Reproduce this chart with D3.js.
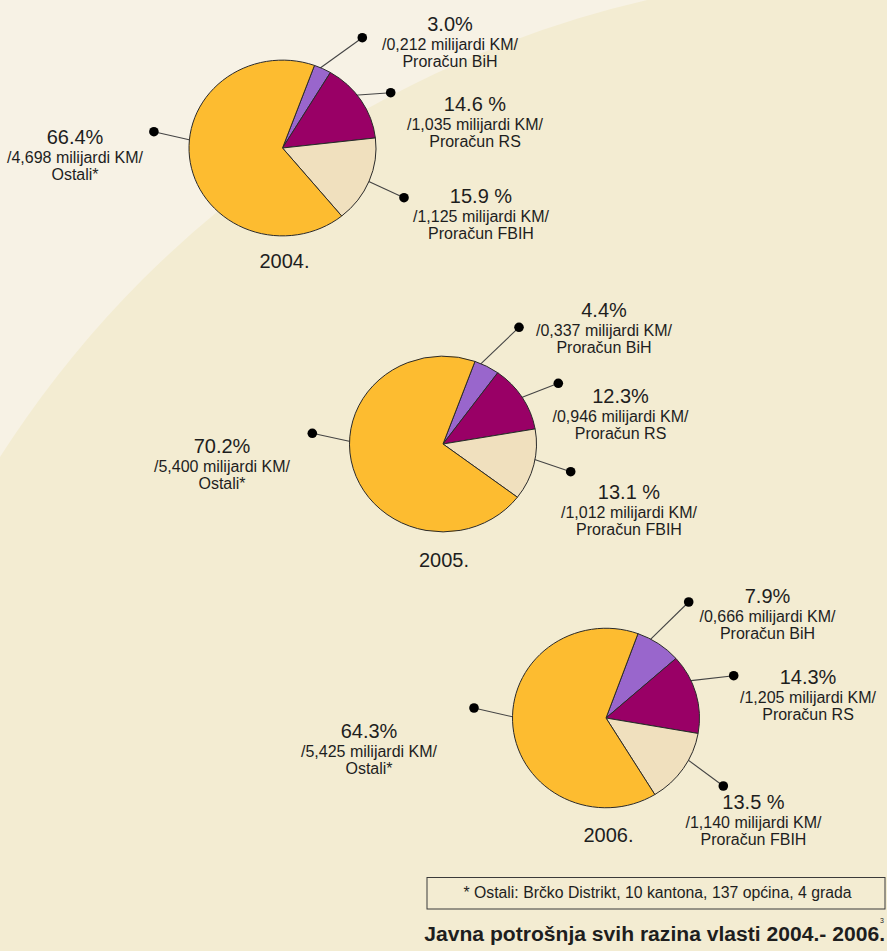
<!DOCTYPE html>
<html>
<head>
<meta charset="utf-8">
<script src="https://cdn.jsdelivr.net/npm/d3@7/dist/d3.min.js"></script>
<style>
  html, body { margin: 0; padding: 0; background: #f7f2e5; }
  svg { display: block; }
  text { font-family: "Liberation Sans", Arial, Helvetica, sans-serif; fill: #1e1e1e; }
</style>
</head>
<body>
<svg id="chart" width="887" height="951"></svg>
<script>
// ---------------- DATA ----------------
const years = ["2004.", "2005.", "2006."];
const categories = ["Proračun BiH", "Proračun RS", "Proračun FBIH", "Ostali*"];
const colors = ["#9966cc", "#990066", "#f0e0be", "#fdbc30"];

const share2004 = [3.0, 14.6, 15.9, 66.4];
const share2005 = [4.4, 12.3, 13.1, 70.2];
const share2006 = [7.9, 14.3, 13.5, 64.3];

const shareText2004 = ["3.0%", "14.6 %", "15.9 %", "66.4%"];
const shareText2005 = ["4.4%", "12.3%", "13.1 %", "70.2%"];
const shareText2006 = ["7.9%", "14.3%", "13.5 %", "64.3%"];

const amount2004 = [0.212, 1.035, 1.125, 4.698];
const amount2005 = [0.337, 0.946, 1.012, 5.400];
const amount2006 = [0.666, 1.205, 1.140, 5.425];

const unitText = "milijardi KM";
const footnote = "* Ostali: Brčko Distrikt, 10 kantona, 137 općina, 4 grada";
const title = "Javna potrošnja svih razina vlasti 2004.- 2006.";
const pageNo = "3";

// ---------------- LAYOUT ----------------
const pieCenter = [[282.5, 148], [443, 444], [606, 718]];
const pieSy = [0.94, 0.94, 0.96];
const pieR = 93.5;
const startDeg = 20;
// angle (deg, clockwise from top) where each leader line leaves the pie
const anchorDeg = [
  [23.4, 52.2, 112.3, 275.2],
  [23.5, 57.7, 100, 271.5],
  [28.2, 65, 117.9, 270.5]
];
const dotPos = [
  [[362.3, 37.7], [390.7, 92.7], [404, 197.7], [153.9, 131.7]],
  [[519, 327.3], [558.3, 383.3], [570.7, 471.7], [312.3, 433.3]],
  [[688.7, 602], [733.7, 675.7], [723.3, 786], [474, 708]]
];
const labelPos = [
  [[450, 30.7], [475, 110.7], [481, 202.7], [75, 144.3]],
  [[604, 316.7], [620.5, 402.7], [629, 499.3], [222, 453.3]],
  [[767.5, 602.7], [808, 684], [753.5, 809.3], [369, 738.3]]
];
const yearPos = [[284.5, 268.3], [444, 566.7], [608.5, 842.3]];

const shares = [share2004, share2005, share2006];
const shareTexts = [shareText2004, shareText2005, shareText2006];
const amounts = [amount2004, amount2005, amount2006];

// ---------------- DRAW ----------------
const svg = d3.select("#chart");
const W = 887, H = 951;

svg.append("rect").attr("width", W).attr("height", H).attr("fill", "#f7f2e5");
svg.append("circle").attr("cx", 882.5).attr("cy", 1020).attr("r", 1046.8).attr("fill", "#f3ecd2");

const color = d3.scaleOrdinal().domain(categories).range(colors);
const fmtAmount = v => d3.format(".3f")(v).replace(".", ",");
const a0 = startDeg * Math.PI / 180;
const pie = d3.pie().sort(null).value(d => d.v).startAngle(a0).endAngle(a0 + 2 * Math.PI);
const arc = d3.arc().innerRadius(0).outerRadius(pieR);

years.forEach((yr, i) => {
  const [cx, cy] = pieCenter[i];
  const sy = pieSy[i];
  const data = categories.map((c, k) => ({ c, v: shares[i][k], k }));
  const arcs = pie(data);

  // leader lines + dots
  arcs.forEach(a => {
    const ang = anchorDeg[i][a.data.k] * Math.PI / 180;
    const ex = cx + (pieR - 2) * Math.sin(ang);
    const ey = cy - (pieR - 2) * Math.cos(ang) * sy;
    const [dx, dy] = dotPos[i][a.data.k];
    svg.append("line")
      .attr("x1", ex).attr("y1", ey).attr("x2", dx).attr("y2", dy)
      .attr("stroke", "#444").attr("stroke-width", 1.1);
    svg.append("circle").attr("cx", dx).attr("cy", dy).attr("r", 4.8).attr("fill", "#000");
  });

  // pie
  const g = svg.append("g").attr("transform", `translate(${cx},${cy}) scale(1,${sy})`);
  g.selectAll("path").data(arcs).join("path")
    .attr("d", arc)
    .attr("fill", d => color(d.data.c))
    .attr("stroke", "#2a2a2a")
    .attr("stroke-width", 1)
    .attr("vector-effect", "non-scaling-stroke")
    .attr("stroke-linejoin", "round");

  // labels
  categories.forEach((c, k) => {
    const [lx, ly] = labelPos[i][k];
    const t = svg.append("g");
    t.append("text").attr("x", lx).attr("y", ly).attr("text-anchor", "middle")
      .attr("font-size", 20).text(shareTexts[i][k]);
    t.append("text").attr("x", lx).attr("y", ly + 19).attr("text-anchor", "middle")
      .attr("font-size", 16).text(`/${fmtAmount(amounts[i][k])} ${unitText}/`);
    t.append("text").attr("x", lx).attr("y", ly + 36).attr("text-anchor", "middle")
      .attr("font-size", 16).text(c);
  });

  svg.append("text").attr("x", yearPos[i][0]).attr("y", yearPos[i][1])
    .attr("text-anchor", "middle").attr("font-size", 20).text(yr);
});

// footnote box
svg.append("rect").attr("x", 427).attr("y", 877.5).attr("width", 458).attr("height", 31.5)
  .attr("fill", "none").attr("stroke", "#3a3a3a").attr("stroke-width", 1);
svg.append("text").attr("x", 657.5).attr("y", 898).attr("text-anchor", "middle")
  .attr("font-size", 15.8).text(footnote);

// title
svg.append("text").attr("x", 885).attr("y", 941).attr("text-anchor", "end")
  .attr("font-size", 21.1).attr("font-weight", "bold").text(title);
svg.append("text").attr("x", 882).attr("y", 922.5).attr("text-anchor", "middle")
  .attr("font-size", 7).text(pageNo);
</script>
</body>
</html>
